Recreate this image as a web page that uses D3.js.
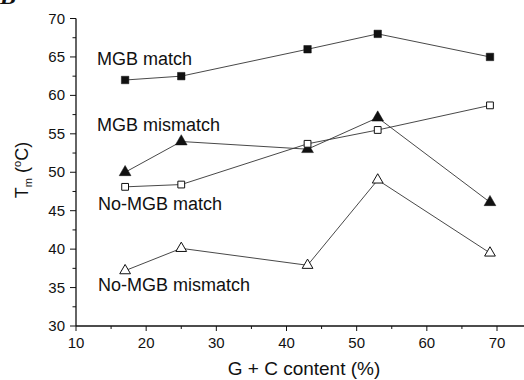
<!DOCTYPE html>
<html><head><meta charset="utf-8">
<script src="https://cdn.jsdelivr.net/npm/d3@7"></script>
<style>
html,body{margin:0;padding:0;background:#fff;}
svg{display:block;font-family:"Liberation Sans",Arial,sans-serif;}
</style></head>
<body>
<svg id="c" width="524" height="380"></svg>
<script>
const gcContent = [17, 25, 43, 53, 69];
const mgbMatch = [62, 62.5, 66, 68, 65];
const mgbMismatch = [50, 54, 53, 57.1, 46.1];
const noMgbMatch = [48.1, 48.4, 53.7, 55.5, 58.7];
const noMgbMismatch = [37.2, 40.1, 37.9, 49, 39.5];
const xTicks = [10, 20, 30, 40, 50, 60, 70];
const yTicks = [30, 35, 40, 45, 50, 55, 60, 65, 70];
const seriesNames = ["MGB match", "MGB mismatch", "No-MGB match", "No-MGB mismatch"];

const svg = d3.select("#c");
const x = d3.scaleLinear().domain([10, 70]).range([76, 497]);
const y = d3.scaleLinear().domain([30, 70]).range([326, 18.5]);
const xEnd = 524;

const ink = "#111";
// axes
const gx = svg.append("g").attr("transform", `translate(0,${y(30)})`);
gx.append("line").attr("x1", x(10)).attr("x2", xEnd).attr("stroke", ink).attr("stroke-width", 1.3);
gx.selectAll(".maj").data(xTicks).join("line")
  .attr("x1", d => x(d)).attr("x2", d => x(d)).attr("y1", 0).attr("y2", 5)
  .attr("stroke", ink).attr("stroke-width", 1);
gx.selectAll(".min").data(xTicks.slice(0, -1).map(d => d + 5)).join("line")
  .attr("x1", d => x(d)).attr("x2", d => x(d)).attr("y1", 0).attr("y2", 3)
  .attr("stroke", ink).attr("stroke-width", 1);
gx.selectAll("text").data(xTicks).join("text")
  .attr("x", d => x(d)).attr("y", 22).attr("text-anchor", "middle")
  .attr("font-size", 15).attr("fill", ink).text(d => d);

const gy = svg.append("g").attr("transform", `translate(${x(10)},0)`);
gy.append("line").attr("y1", y(30)).attr("y2", y(70)).attr("stroke", ink).attr("stroke-width", 1.3);
gy.selectAll(".maj").data(yTicks).join("line")
  .attr("y1", d => y(d)).attr("y2", d => y(d)).attr("x1", 0).attr("x2", -6)
  .attr("stroke", ink).attr("stroke-width", 1);
gy.selectAll(".min").data(yTicks.slice(0, -1).map(d => d + 2.5)).join("line")
  .attr("y1", d => y(d)).attr("y2", d => y(d)).attr("x1", 0).attr("x2", -3.5)
  .attr("stroke", ink).attr("stroke-width", 1);
gy.selectAll("text").data(yTicks).join("text")
  .attr("x", -11).attr("y", d => y(d) + 5).attr("text-anchor", "end")
  .attr("font-size", 15).attr("fill", ink).text(d => d);

// axis titles
svg.append("text").attr("x", 304).attr("y", 375).attr("text-anchor", "middle")
  .attr("font-size", 19).attr("fill", ink).text("G + C content (%)");
const yt = svg.append("text").attr("transform", `translate(28,170) rotate(-90)`)
  .attr("text-anchor", "middle").attr("font-size", 18).attr("fill", ink);
yt.append("tspan").text("T");
yt.append("tspan").attr("font-size", 11).attr("dy", 4).text("m");
yt.append("tspan").attr("dy", -4).text(" (");
yt.append("tspan").attr("font-size", 11).attr("dy", -7).text("o");
yt.append("tspan").attr("dy", 7).text("C)");

svg.append("text").attr("x", 0).attr("y", 4).attr("font-family", "Liberation Serif, serif")
  .attr("font-size", 24).attr("font-weight", "bold").attr("font-style", "italic").attr("fill", ink).text("B");

// series
const series = [
  {name: seriesNames[0], vals: mgbMatch, shape: "square", fill: true, lx: 97, ly: 65},
  {name: seriesNames[1], vals: mgbMismatch, shape: "triangle", fill: true, lx: 97, ly: 131},
  {name: seriesNames[2], vals: noMgbMatch, shape: "square", fill: false, lx: 98, ly: 210},
  {name: seriesNames[3], vals: noMgbMismatch, shape: "triangle", fill: false, lx: 98, ly: 291},
];
const line = d3.line().x(d => x(d[0])).y(d => y(d[1]));
series.forEach(s => {
  const pts = gcContent.map((g, i) => [g, s.vals[i]]);
  svg.append("path").attr("d", line(pts)).attr("fill", "none").attr("stroke", "#333").attr("stroke-width", 0.9);
  const sym = d3.symbol().type(s.shape === "square" ? d3.symbolSquare : d3.symbolTriangle)
    .size(s.shape === "square" ? (s.fill ? 56 : 46) : (s.fill ? 60 : 50));
  svg.selectAll(null).data(pts).join("path")
    .attr("d", sym)
    .attr("transform", d => `translate(${x(d[0])},${y(d[1])})`)
    .attr("fill", s.fill ? ink : "#fff").attr("stroke", ink).attr("stroke-width", s.fill ? 0.5 : 1);
  svg.append("text").attr("x", s.lx).attr("y", s.ly).attr("font-size", 18).attr("fill", ink).text(s.name);
});
</script>
</body></html>
